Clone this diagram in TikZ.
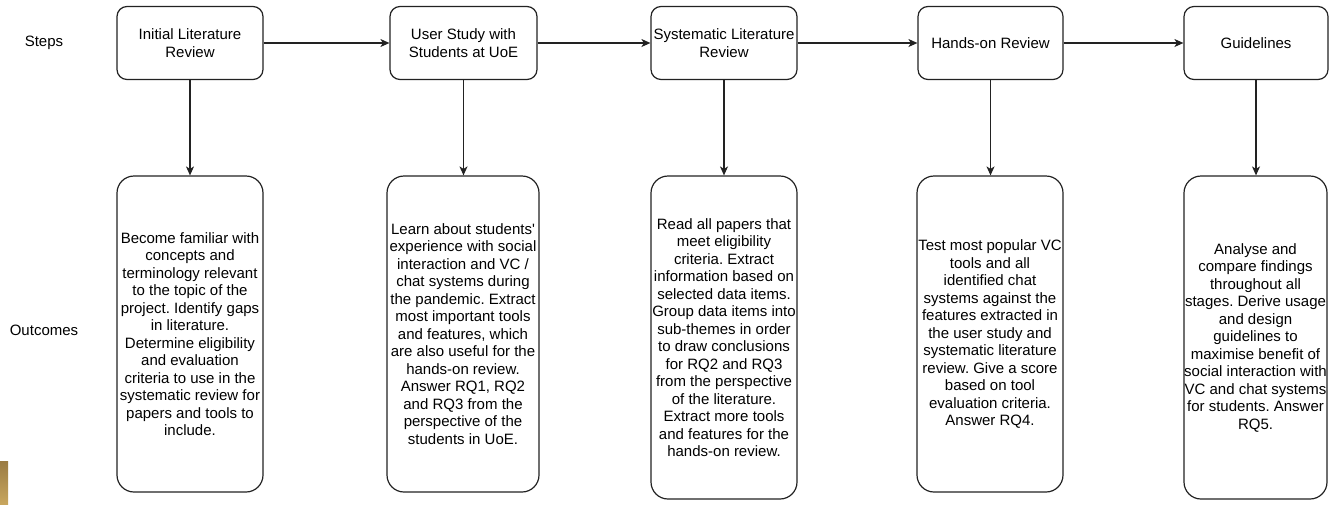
\documentclass[tikz,border=0pt]{standalone}
\usepackage{fontspec}
\setmainfont{Liberation Sans}[Ligatures=TeXOff]
\usetikzlibrary{arrows.meta}
\definecolor{edge}{HTML}{222222}
\definecolor{goldtop}{HTML}{9A7B42}
\definecolor{goldbot}{HTML}{C8A65E}
\frenchspacing
\tikzset{
  stepbox/.style={draw=edge, line width=1.2pt, rounded corners=10pt, align=center, inner xsep=0pt, inner ysep=2pt,
    font=\fontsize{15}{17.5}\selectfont},
  outbox/.style={draw=edge, line width=1.2pt, rounded corners=17pt, align=center, inner xsep=0pt, inner ysep=2pt,
    font=\fontsize{15}{17.5}\selectfont},
  rowlabel/.style={font=\fontsize{15}{17.5}\selectfont, inner sep=0pt},
  conn/.style={draw=edge, line width=1.2pt, -{Stealth[length=9pt,width=8pt,inset=2.5pt]}}
}
\begin{document}
\begin{tikzpicture}[x=1pt,y=-1pt]
\useasboundingbox (0,0) rectangle (1329,504);
\shade[top color=goldtop, bottom color=goldbot] (0,461) rectangle (8,504);

\node[rowlabel] (steps) at (44,43) {Steps};
\node[rowlabel] (outc) at (44,330) {Outcomes};

\node[stepbox, minimum width=146pt, minimum height=73pt] (s1) at (190,43) {Initial Literature\\Review};
\node[stepbox, minimum width=147pt, minimum height=73pt] (s2) at (463.5,43) {User Study with\\Students at UoE};
\node[stepbox, minimum width=146pt, minimum height=73pt] (s3) at (724,43) {Systematic Literature\\Review};
\node[stepbox, minimum width=145pt, minimum height=73pt] (s4) at (990.5,43) {Hands-on Review};
\node[stepbox, minimum width=144pt, minimum height=73pt] (s5) at (1256,43) {Guidelines};

\node[outbox, minimum width=146pt, minimum height=316pt] (o1) at (190,334) {Become familiar with\\concepts and\\terminology relevant\\to the topic of the\\project. Identify gaps\\in literature.\\Determine eligibility\\and evaluation\\criteria to use in the\\systematic review for\\papers and tools to\\include.};
\node[outbox, minimum width=152pt, minimum height=316pt] (o2) at (463,334) {Learn about students'\\experience with social\\interaction and VC /\\chat systems during\\the pandemic. Extract\\most important tools\\and features, which\\are also useful for the\\hands-on review.\\Answer RQ1, RQ2\\and RQ3 from the\\perspective of the\\students in UoE.};
\node[outbox, minimum width=146pt, minimum height=323pt] (o3) at (724,337.5) {Read all papers that\\meet eligibility\\criteria. Extract\\information based on\\selected data items.\\Group data items into\\sub-themes in order\\to draw conclusions\\for RQ2 and RQ3\\from the perspective\\of the literature.\\Extract more tools\\and features for the\\hands-on review.};
\node[outbox, minimum width=146pt, minimum height=316pt] (o4) at (990,334) {Test most popular VC\\tools and all\\identified chat\\systems against the\\features extracted in\\the user study and\\systematic literature\\review. Give a score\\based on tool\\evaluation criteria.\\Answer RQ4.};
\node[outbox, minimum width=143pt, minimum height=323pt] (o5) at (1255.5,337.5) {Analyse and\\compare findings\\throughout all\\stages. Derive usage\\and design\\guidelines to\\maximise benefit of\\social interaction with\\VC and chat systems\\for students. Answer\\RQ5.};

\draw[conn] (s1) -- (s2);
\draw[conn] (s2) -- (s3);
\draw[conn] (s3) -- (s4);
\draw[conn] (s4) -- (s5);
\draw[conn] (s1.south) -- (s1.south |- o1.north);
\draw[conn] (s2.south) -- (s2.south |- o2.north);
\draw[conn] (s3.south) -- (s3.south |- o3.north);
\draw[conn] (s4.south) -- (s4.south |- o4.north);
\draw[conn] (s5.south) -- (s5.south |- o5.north);
\end{tikzpicture}
\end{document}
